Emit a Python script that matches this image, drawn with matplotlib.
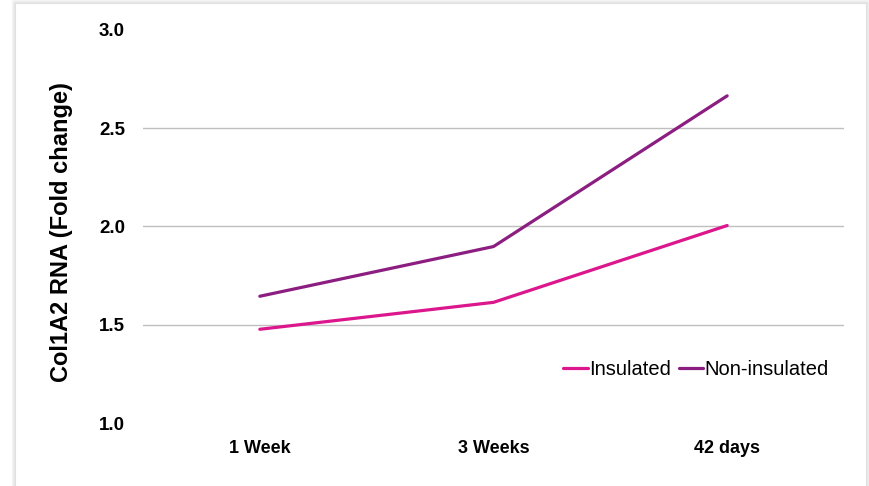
import matplotlib
matplotlib.use("Agg")
import matplotlib.pyplot as plt
from matplotlib.patches import Rectangle

# Data
timepoints = ["1 Week", "3 Weeks", "42 days"]
insulated = [1.477, 1.614, 2.005]
non_insulated = [1.645, 1.898, 2.665]
y_ticks = [1.0, 1.5, 2.0, 2.5, 3.0]
grid_levels = [1.5, 2.0, 2.5]

plt.rcParams['font.family'] = ['Liberation Sans', 'DejaVu Sans']

W, H = 869, 486
fig = plt.figure(figsize=(W / 100, H / 100), dpi=100)
fig.patch.set_facecolor('white')

# slide-like card with a soft shadow
for i, a in enumerate([0.03, 0.05, 0.08]):
    off = 3 - i
    fig.patches.append(Rectangle(((15 - off) / W, -0.1), (851 + 2 * off) / W,
                                 (H - 3 + off) / H + 0.1,
                                 transform=fig.transFigure, facecolor='none',
                                 edgecolor=(0, 0, 0, a), linewidth=1.0, zorder=0))
fig.patches.append(Rectangle((15 / W, -0.1), 851 / W, (H - 3) / H + 0.1,
                             transform=fig.transFigure, facecolor='white',
                             edgecolor='#e0e0e0', linewidth=0.8, zorder=0))

ax = fig.add_axes([143 / W, (H - 423) / H, 701 / W, 393 / H])
ax.set_facecolor('none')
ax.set_zorder(2)

x = list(range(len(timepoints)))
ax.plot(x, insulated, color='#DC168C', linewidth=2.3, label='Insulated',
        solid_capstyle='round', zorder=3)
ax.plot(x, non_insulated, color='#8C1E82', linewidth=2.3, label='Non-insulated',
        solid_capstyle='round', zorder=3)

for g in grid_levels:
    ax.axhline(g, color='#bfbfbf', linewidth=1.0, zorder=1)

ax.set_xlim(-0.5, len(timepoints) - 0.5)
ax.set_ylim(1.0, 3.0)
ax.set_yticks(y_ticks)
ax.set_yticklabels([f"{v:.1f}" for v in y_ticks], fontsize=13.5, fontweight='bold')
ax.set_xticks(x)
ax.set_xticklabels(timepoints, fontsize=13, fontweight='bold')
ax.tick_params(axis='both', length=0)
ax.tick_params(axis='y', pad=13)
ax.tick_params(axis='x', pad=12)
for s in ax.spines.values():
    s.set_visible(False)

t = fig.text(62 / W, (H - 232) / H, "Col1A2 RNA (Fold change)", rotation=90,
             ha='center', va='center', fontsize=17, fontweight='bold')
t.set_zorder(3)

leg = ax.legend(loc='center right', bbox_to_anchor=(0.99, 0.135), ncol=2,
                frameon=False, fontsize=14.5, handlelength=1.2, handletextpad=0.1,
                columnspacing=0.35, borderaxespad=0)

fig.savefig("out.png", dpi=100, facecolor='white')
